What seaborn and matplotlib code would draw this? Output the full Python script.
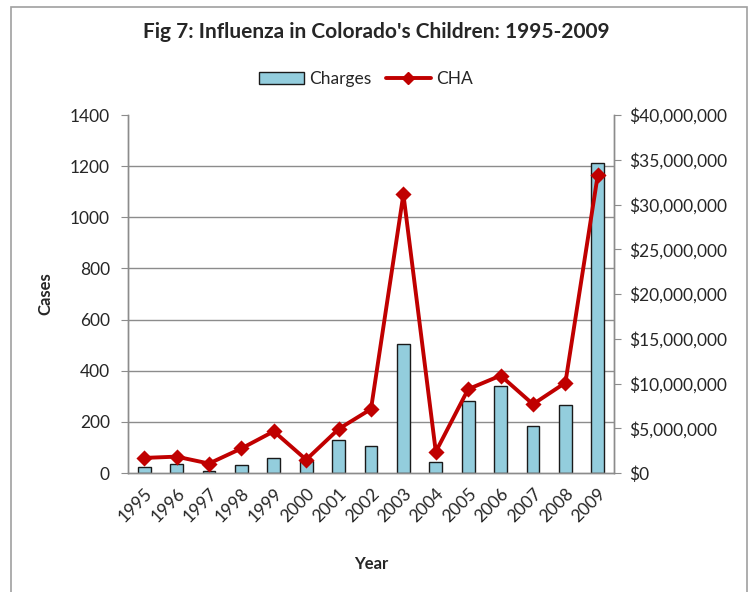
import seaborn as sns
import pandas as pd
import matplotlib.pyplot as plt
import matplotlib.ticker as mticker
from matplotlib.patches import Patch, Rectangle
from matplotlib.lines import Line2D
import numpy as np

years = ['1995', '1996', '1997', '1998', '1999', '2000', '2001', '2002',
         '2003', '2004', '2005', '2006', '2007', '2008', '2009']
# CHA cases (left axis)
cha = [59, 64, 37, 96, 163, 52, 172, 250, 1090, 83, 328, 381, 269, 353, 1166]
# hospital charges in dollars (right axis)
charges = [720000, 1040000, 190000, 850000, 1710000, 1300000, 3690000, 2970000,
           14400000, 1230000, 8100000, 9700000, 5300000, 7560000, 34600000]

bar_color = '#93CDDD'
line_color = '#C00000'
grid_color = '#8C8C8C'

sns.set_style('white')
plt.rcParams['font.family'] = ['Lato', 'DejaVu Sans']

df = pd.DataFrame({'Year': years, 'CHA': cha, 'Charges': charges})

fig = plt.figure(figsize=(7.56, 5.92), dpi=100)
ax = fig.add_axes([128/756, 1-473/592, (614-128)/756, (473-115)/592])
ax2 = ax.twinx()

# bars on the right ($) axis, drawn underneath the line
sns.barplot(data=df, x='Year', y='Charges', ax=ax2, color=bar_color,
            width=0.4, edgecolor='#1a1a1a', linewidth=1, saturation=1)
sns.pointplot(data=df, x='Year', y='CHA', ax=ax, color=line_color,
              markers='D', linestyles='-', markersize=6, linewidth=2.8,
              errorbar=None)
ax.set_zorder(ax2.get_zorder() + 1)
ax.patch.set_visible(False)

ax.set_ylim(0, 1400)
ax2.set_ylim(0, 40000000)
ax.set_xlim(-0.5, len(years) - 0.5)

ax.set_yticks(np.arange(0, 1401, 200))
ax2.set_yticks(np.arange(0, 40000001, 5000000))
ax2.yaxis.set_major_formatter(mticker.StrMethodFormatter('${x:,.0f}'))

# gridlines follow the cases axis but sit behind the bars
ax2.set_yticks(np.linspace(0, 40000000, 8), minor=True)
ax2.yaxis.grid(True, which='minor', color=grid_color, linewidth=1)
ax2.set_axisbelow(True)
ax2.tick_params(axis='y', which='minor', length=0)

# category ticks between bars, labels centred
ax.set_xticks(np.arange(-0.5, len(years), 1), minor=True)
ax.tick_params(axis='x', which='major', length=0, pad=9)
ax.tick_params(axis='x', which='minor', length=5, color=grid_color, direction='out')
ax.set_xticks(range(len(years)))
ax.set_xticklabels(years, rotation=45, ha='right', rotation_mode='anchor',
                   fontsize=12.5)
ax2.set_xlabel('')

ax.tick_params(axis='y', length=5, color=grid_color, direction='out', labelsize=12.5,
               pad=8, left=True)
ax2.tick_params(axis='y', which='major', length=5, color=grid_color,
                direction='out', labelsize=12.5, pad=6, right=True)

for a in (ax, ax2):
    a.spines['top'].set_visible(False)
    for s in ('left', 'right', 'bottom'):
        a.spines[s].set_color(grid_color)
        a.spines[s].set_linewidth(1)

ax.set_ylabel('Cases', fontsize=12, fontweight='bold', labelpad=12)
ax2.set_ylabel('')
ax.set_xlabel('Year', fontsize=12, fontweight='bold', labelpad=22)

fig.text(376/756, 1-32/592, "Fig 7: Influenza in Colorado's Children: 1995-2009",
         ha='center', va='center', fontsize=15, fontweight='bold')

handles = [Patch(facecolor=bar_color, edgecolor='#1a1a1a', linewidth=1, label='Charges'),
           Line2D([], [], color=line_color, marker='D', markersize=6, linewidth=2.8, label='CHA')]
fig.legend(handles=handles, loc='center', bbox_to_anchor=(366/756, 1-79/592),
           ncol=2, frameon=False, fontsize=12.5, handlelength=2.6, columnspacing=0.8,
           handletextpad=0.3)

fig.add_artist(Rectangle((11/756, -0.05), (747-11)/756, 1.05-7/592,
                         transform=fig.transFigure, fill=False,
                         edgecolor='#A0A0A0', linewidth=1.2))

fig.savefig('out.png', dpi=100)
